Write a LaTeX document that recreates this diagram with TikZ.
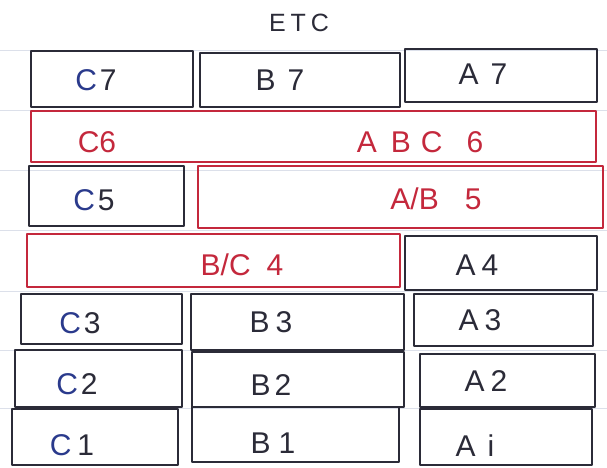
\documentclass[tikz,border=0pt]{standalone}
\usepackage{fontspec}
\setmainfont{Liberation Sans}
\definecolor{inkk}{HTML}{2B2B38}
\definecolor{inkr}{HTML}{C4283C}
\definecolor{inkb}{HTML}{2A3A8C}
\definecolor{rule}{HTML}{DCE0EA}
\tikzset{
  boxk/.style={draw=inkk, line width=2.6pt, line join=round},
  boxr/.style={draw=inkr, line width=2.6pt, line join=round},
  lbl/.style={font=\fontsize{30}{30}\selectfont, text=inkk, inner sep=0pt},
  lblr/.style={lbl, text=inkr},
  ruled/.style={draw=rule, line width=0.8pt}
}
\newcommand\cb{\textcolor{inkb}{C}}
\newcommand\gp[1]{\hspace{#1pt}}
\begin{document}
\begin{tikzpicture}[x=1pt,y=-1pt]
\fill[white] (0,0) rectangle (607,467);
\useasboundingbox (0,0) rectangle (607,467);
% notebook ruling
\foreach \yy in {50,110,170,230,291,350,408} \draw[ruled] (0,\yy) -- (607,\yy);
\node[lbl, font=\fontsize{25}{25}\selectfont] (etc) at (299,23) {E\gp{5}T\gp{5}C};
% row 7
\draw[boxk] (31,51) rectangle (193,107);
\draw[boxk] (200,53) rectangle (400,107);
\draw[boxk] (405,49) rectangle (597,102);
\node[lbl] (c7) at (96,80) {\cb\gp{3}7};
\node[lbl] (b7) at (280,80) {B\gp{12}7};
\node[lbl] (a7) at (483,74) {A\gp{12}7};
% row 6
\draw[boxr] (31,111) rectangle (596,162);
\node[lblr] (c6) at (97,142) {C6};
\node[lblr] (abc6) at (420,142) {A\gp{14}B\gp{10}C\gp{24}6};
% row 5
\draw[boxk] (29,166) rectangle (184,226);
\draw[boxr] (198,166) rectangle (603,228);
\node[lbl] (c5) at (94,200) {\cb\gp{3}5};
\node[lblr] (ab5) at (436,199) {A/B\gp{26}5};
% row 4
\draw[boxr] (27,234) rectangle (400,287);
\draw[boxk] (405,236) rectangle (597,290);
\node[lblr] (bc4) at (242,265) {B/C\gp{16}4};
\node[lbl] (a4) at (477,265) {A\gp{6}4};
% row 3
\draw[boxk] (21,294) rectangle (182,344);
\draw[boxk] (191,294) rectangle (404,350);
\draw[boxk] (414,294) rectangle (593,346);
\node[lbl] (c3) at (80,323) {\cb\gp{3}3};
\node[lbl] (b3) at (271,322) {B\gp{6}3};
\node[lbl] (a3) at (480,320) {A\gp{6}3};
% row 2
\draw[boxk] (15,350) rectangle (182,407);
\draw[boxk] (192,352) rectangle (404,407);
\draw[boxk] (420,354) rectangle (595,407);
\node[lbl] (c2) at (77,384) {\cb\gp{3}2};
\node[lbl] (b2) at (271,385) {B\gp{4}2};
\node[lbl] (a2) at (486,381) {A\gp{6}2};
% row 1
\draw[boxk] (12,409) rectangle (178,465);
\draw[boxk] (192,407) rectangle (399,462);
\draw[boxk] (420,409) rectangle (592,465);
\node[lbl] (c1) at (72,445) {\cb\gp{6}1};
\node[lbl] (b1) at (273,443) {B\gp{8}1};
\node[lbl] (a1) at (475,446) {A\gp{12}i};
\end{tikzpicture}
\end{document}
